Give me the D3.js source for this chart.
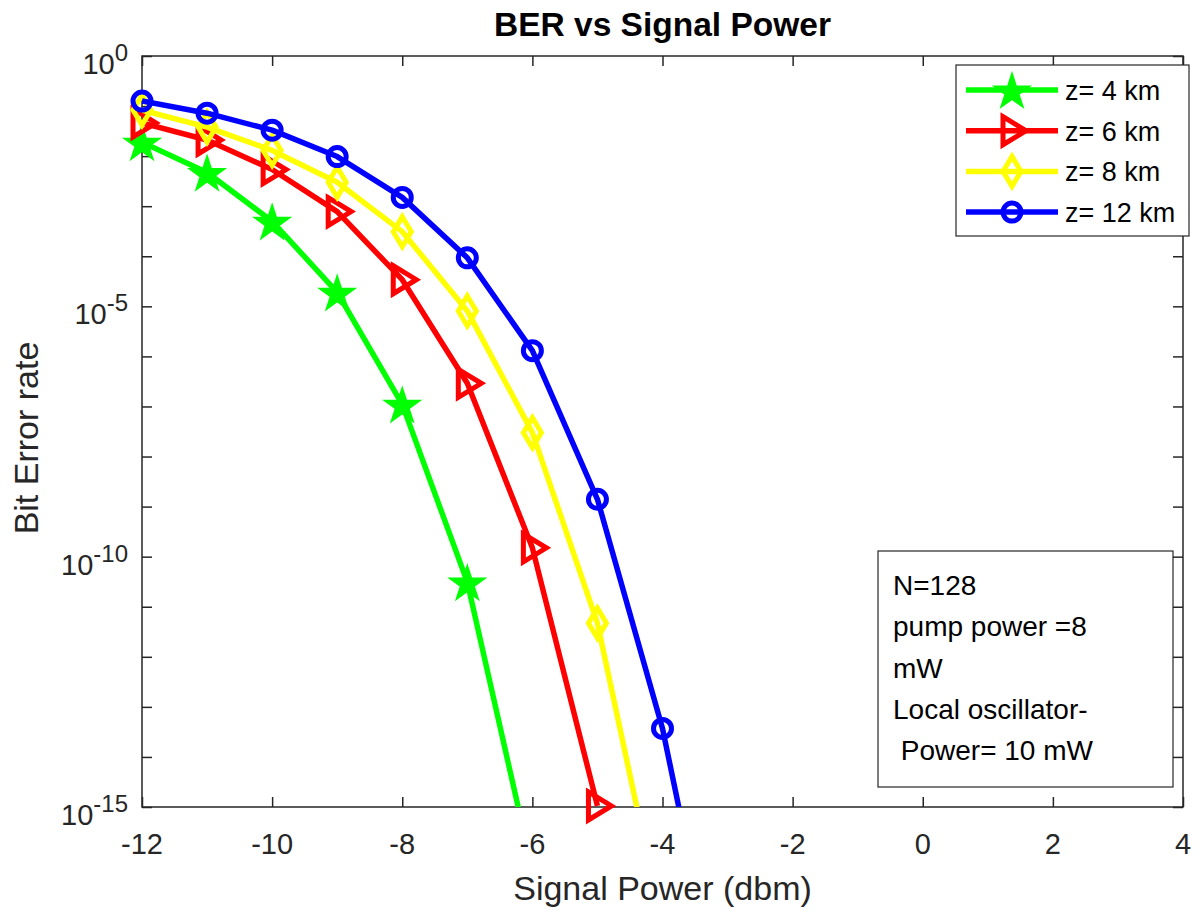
<!DOCTYPE html>
<html>
<head>
<meta charset="utf-8">
<script src="https://cdn.jsdelivr.net/npm/d3@7"></script>
<style>
  body { margin: 0; background: #fff; }
  svg { display: block; font-family: "Liberation Sans", Arial, Helvetica, sans-serif; }
</style>
</head>
<body>
<svg id="chart" width="1204" height="912"></svg>
<script>
// signal power (dbm)
var power = [-12, -11, -10, -9, -8, -7, -6, -5, -4, -3];

// BER for each fibre length (last points fall below the axis)
var ber4km  = [1.9e-2, 4.7e-3, 5.0e-4, 1.9e-5, 1.1e-7, 3.1e-11, 5.6e-17];
var ber6km  = [4.6e-2, 2.1e-2, 5.4e-3, 7.8e-4, 3.4e-5, 2.9e-7, 1.5e-10, 1.05e-15];
var ber8km  = [8.3e-2, 3.8e-2, 1.3e-2, 3.0e-3, 3.1e-4, 8.1e-6, 3.0e-8, 4.7e-12, 4e-18];
var ber12km = [1.26e-1, 7.2e-2, 3.3e-2, 9.8e-3, 1.5e-3, 9.3e-5, 1.3e-6, 1.4e-9, 3.7e-14, 2e-20];

var seriesNames = ["z= 4 km", "z= 6 km", "z= 8 km", "z= 12 km"];
var seriesColors = ["#00ff00", "#ff0000", "#ffff00", "#0000ff"];
var seriesMarkers = ["star", "triangle", "diamond", "circle"];
var seriesValues = [ber4km, ber6km, ber8km, ber12km];

var xTicks = [-12, -10, -8, -6, -4, -2, 0, 2, 4];
var yMajor = [0, -5, -10, -15];   // exponents with labels
var yDecades = d3.range(-15, 1);   // every decade gets a tick

var noteLines = ["N=128", "pump power =8", "mW", "Local oscillator-", " Power= 10 mW"];

var svg = d3.select("#chart");
var pL = 142, pR = 1183, pT = 56, pB = 807;
var axisColor = "#262626";

var x = d3.scaleLinear().domain([-12, 4]).range([pL, pR]);
var y = d3.scaleLog().domain([1e-15, 1]).range([pB, pT]);

svg.append("defs").append("clipPath").attr("id", "plotclip")
  .append("rect").attr("x", pL).attr("y", pT)
  .attr("width", pR - pL).attr("height", pB - pT);

// axes with inward ticks on all four sides
function styleAxis(g) {
  g.select(".domain").remove();
  g.selectAll(".tick line").attr("stroke", axisColor).attr("stroke-width", 1.5);
  g.selectAll(".tick text").remove();
}
svg.append("g").attr("transform", "translate(0," + pB + ")")
  .call(d3.axisBottom(x).tickValues(xTicks).tickSizeInner(-10).tickSizeOuter(0)).call(styleAxis);
svg.append("g").attr("transform", "translate(0," + pT + ")")
  .call(d3.axisTop(x).tickValues(xTicks).tickSizeInner(-10).tickSizeOuter(0)).call(styleAxis);
var decadeVals = yDecades.map(function(e) { return Math.pow(10, e); });
svg.append("g").attr("transform", "translate(" + pL + ",0)")
  .call(d3.axisLeft(y).tickValues(decadeVals).tickSizeInner(-10).tickSizeOuter(0)).call(styleAxis);
svg.append("g").attr("transform", "translate(" + pR + ",0)")
  .call(d3.axisRight(y).tickValues(decadeVals).tickSizeInner(-10).tickSizeOuter(0)).call(styleAxis);

svg.append("rect").attr("x", pL).attr("y", pT)
  .attr("width", pR - pL).attr("height", pB - pT)
  .attr("fill", "none").attr("stroke", axisColor).attr("stroke-width", 1.5);

// x tick labels
svg.append("g").selectAll("text").data(xTicks).join("text")
  .attr("x", function(d) { return x(d); })
  .attr("y", pB + 47)
  .attr("text-anchor", "middle")
  .attr("font-size", 29)
  .attr("fill", axisColor)
  .text(function(d) { return d < 0 ? "-" + Math.abs(d) : d; });

// y tick labels 10^n
var yl = svg.append("g").selectAll("text").data(yMajor).join("text")
  .attr("x", 128)
  .attr("y", function(d) { return y(Math.pow(10, d)) + 18; })
  .attr("text-anchor", "end")
  .attr("fill", axisColor)
  .attr("font-size", 29);
yl.append("tspan").text("10");
yl.append("tspan").attr("dy", -13).attr("font-size", 24)
  .text(function(d) { return d; });

// titles
svg.append("text").attr("x", (pL + pR) / 2).attr("y", 36)
  .attr("text-anchor", "middle").attr("font-size", 33.5).attr("font-weight", "bold")
  .attr("fill", "#000").text("BER vs Signal Power");
svg.append("text").attr("x", (pL + pR) / 2).attr("y", 900)
  .attr("text-anchor", "middle").attr("font-size", 34)
  .attr("fill", axisColor).text("Signal Power (dbm)");
svg.append("text").attr("transform", "translate(38,438) rotate(-90)")
  .attr("text-anchor", "middle").attr("font-size", 34)
  .attr("fill", axisColor).text("Bit Error rate");

// markers
function drawMarker(g, kind, color, cx, cy) {
  if (kind == "star") {
    g.append("path").attr("d", d3.symbol().type(d3.symbolStar).size(360)())
      .attr("transform", "translate(" + cx + "," + (cy + 2) + ")")
      .attr("fill", color).attr("stroke", color).attr("stroke-width", 2);
  } else if (kind == "triangle") {
    g.append("path").attr("d", "M-9,-14 L14,0 L-9,14 Z")
      .attr("transform", "translate(" + cx + "," + cy + ")")
      .attr("fill", "none").attr("stroke", color).attr("stroke-width", 5);
  } else if (kind == "diamond") {
    g.append("path").attr("d", "M0,-15 L9,0 L0,15 L-9,0 Z")
      .attr("transform", "translate(" + cx + "," + cy + ")")
      .attr("fill", "none").attr("stroke", color).attr("stroke-width", 5);
  } else {
    g.append("circle").attr("cx", cx).attr("cy", cy).attr("r", 9)
      .attr("fill", "none").attr("stroke", color).attr("stroke-width", 5);
  }
}

var line = d3.line()
  .x(function(d) { return x(d[0]); })
  .y(function(d) { return y(d[1]); });

seriesValues.forEach(function(vals, i) {
  var pts = vals.map(function(v, j) { return [power[j], v]; });
  var g = svg.append("g");
  g.append("path").datum(pts)
    .attr("d", line)
    .attr("clip-path", "url(#plotclip)")
    .attr("fill", "none")
    .attr("stroke", seriesColors[i])
    .attr("stroke-width", 5.5)
    .attr("stroke-linejoin", "round");
  pts.forEach(function(p) {
    if (p[1] >= 1e-15 * 0.999) drawMarker(g, seriesMarkers[i], seriesColors[i], x(p[0]), y(p[1]));
  });
});

// legend
var lg = svg.append("g");
lg.append("rect").attr("x", 956).attr("y", 65).attr("width", 233).attr("height", 171)
  .attr("fill", "#fff").attr("stroke", axisColor).attr("stroke-width", 1.2);
seriesNames.forEach(function(name, i) {
  var ly = 90 + i * 40.7;
  lg.append("line").attr("x1", 966).attr("x2", 1058).attr("y1", ly).attr("y2", ly)
    .attr("stroke", seriesColors[i]).attr("stroke-width", 5.5);
  drawMarker(lg, seriesMarkers[i], seriesColors[i], 1012, ly);
  lg.append("text").attr("x", 1065).attr("y", ly + 10)
    .attr("font-size", 27).attr("fill", "#000").text(name);
});

// annotation box
var nb = svg.append("g");
nb.append("rect").attr("x", 878).attr("y", 551).attr("width", 295).attr("height", 236)
  .attr("fill", "#fff").attr("stroke", axisColor).attr("stroke-width", 1.2);
noteLines.forEach(function(t, i) {
  nb.append("text").attr("x", 893).attr("y", 595 + i * 41.3)
    .attr("font-size", 28).attr("fill", "#000")
    .attr("xml:space", "preserve").style("white-space", "pre")
    .text(t);
});
</script>
</body>
</html>
